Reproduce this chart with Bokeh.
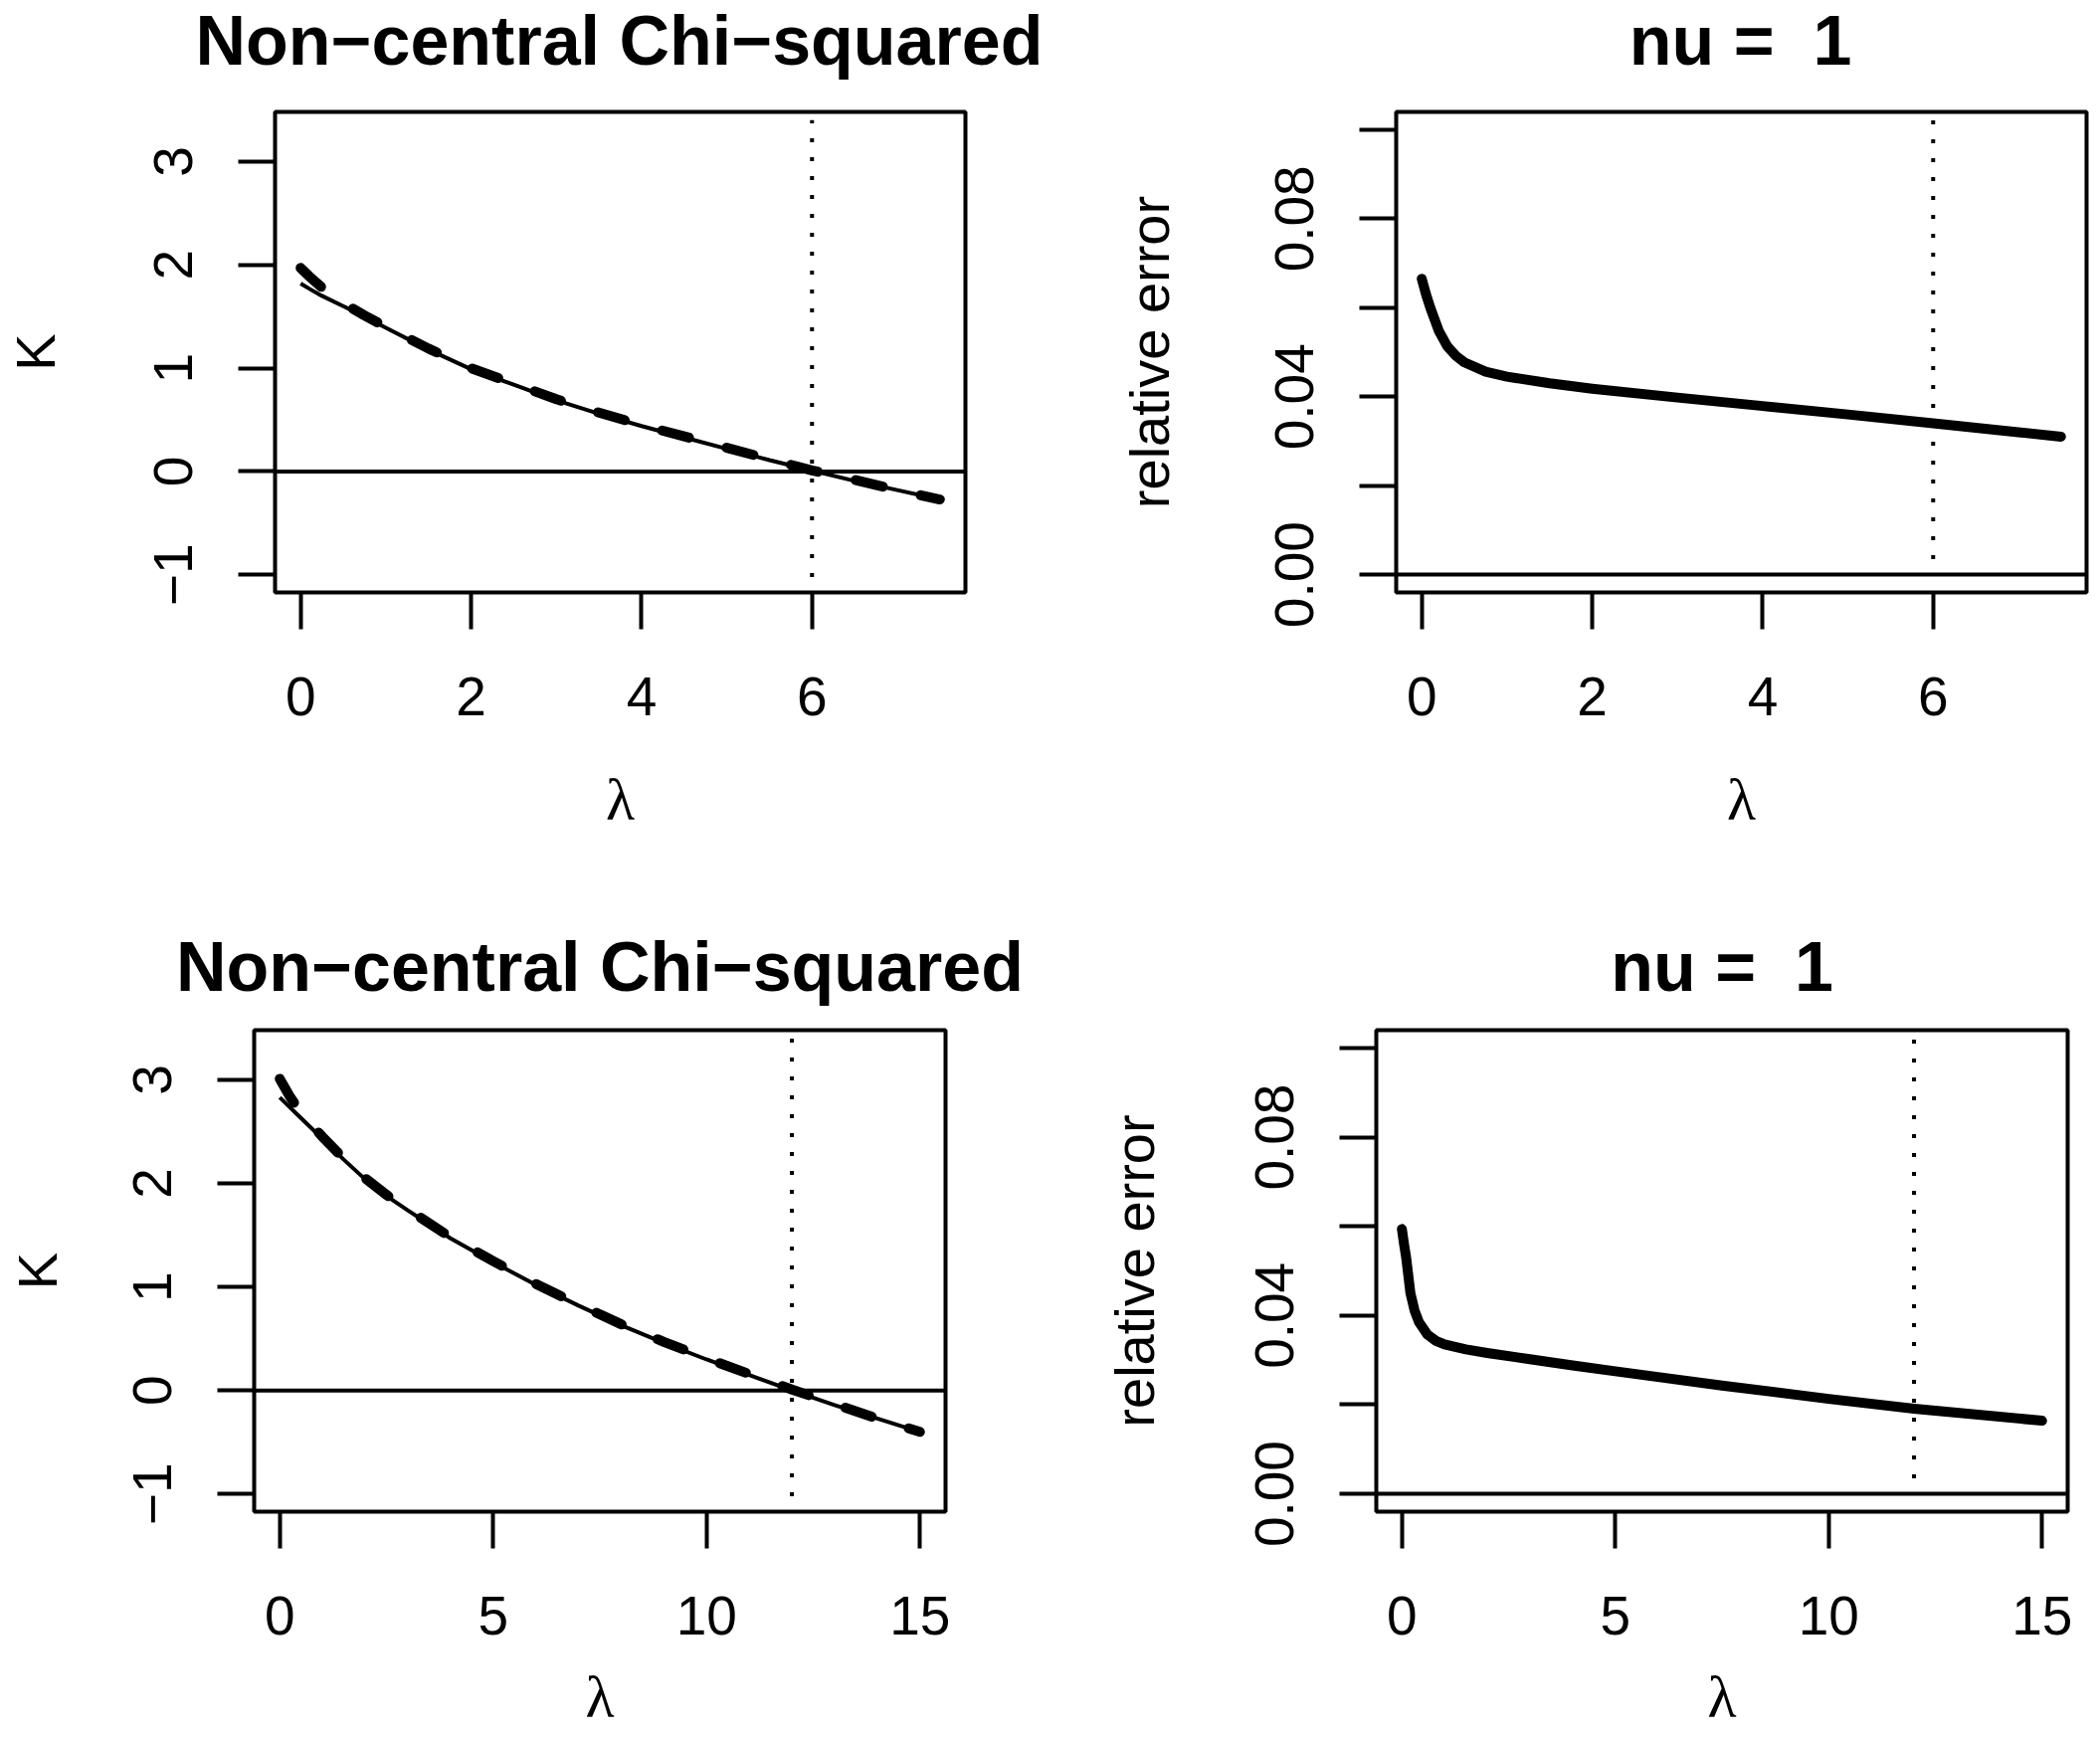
import math
from bokeh.plotting import figure
from bokeh.layouts import column, row
from bokeh.models import FixedTicker, CustomJSTickFormatter, Span, Range1d
from bokeh.core.properties import value
from bokeh.embed import file_html
from bokeh.resources import INLINE

# ---------------- data ----------------
title_left = "Non\u2212central Chi\u2212squared"
title_right = "nu = \u00a01"

# top-left panel: K versus lambda (lambda up to 7.5)
lam_tl = [0, 0.1, 0.25, 0.5, 0.75, 1, 1.5, 2, 2.5, 3, 3.5, 4, 4.5, 5, 5.5, 6, 6.5, 7, 7.5]
K_solid_tl = [1.82, 1.77, 1.70, 1.60, 1.50, 1.39, 1.18, 0.99, 0.84, 0.69, 0.56, 0.44, 0.33, 0.22, 0.11, 0.01, -0.09, -0.18, -0.27]
K_dashed_tl = [1.97, 1.89, 1.78, 1.63, 1.51, 1.40, 1.19, 1.00, 0.85, 0.70, 0.57, 0.45, 0.34, 0.23, 0.12, 0.01, -0.08, -0.18, -0.27]

# top-right panel: relative error
lam_tr = [0, 0.05, 0.1, 0.2, 0.3, 0.4, 0.5, 0.75, 1, 1.5, 2, 3, 4, 5, 6, 7, 7.5]
err_tr = [0.0665, 0.0630, 0.0600, 0.0548, 0.0513, 0.0492, 0.0477, 0.0456, 0.0445, 0.0430, 0.0418, 0.0398, 0.0379, 0.0360, 0.0340, 0.0320, 0.0310]

# bottom-left panel: K versus lambda (lambda up to 15)
lam_bl = [0, 0.25, 0.5, 1, 1.5, 2, 2.5, 3, 4, 5, 6, 7, 8, 9, 10, 11, 12, 13, 14, 15]
K_solid_bl = [2.83, 2.73, 2.63, 2.43, 2.23, 2.04, 1.88, 1.74, 1.47, 1.24, 1.02, 0.82, 0.63, 0.46, 0.30, 0.15, 0.00, -0.14, -0.27, -0.40]
K_dashed_bl = [3.01, 2.83, 2.68, 2.45, 2.24, 2.05, 1.89, 1.75, 1.48, 1.25, 1.03, 0.83, 0.64, 0.47, 0.31, 0.16, 0.01, -0.13, -0.27, -0.40]

# bottom-right panel: relative error
lam_br = [0, 0.05, 0.1, 0.2, 0.3, 0.4, 0.6, 0.8, 1, 1.5, 2, 3, 4, 5, 6, 7.5, 10, 12, 15]
err_br = [0.0594, 0.0560, 0.0530, 0.0450, 0.0410, 0.0385, 0.0357, 0.0343, 0.0335, 0.0324, 0.0316, 0.0302, 0.0288, 0.0275, 0.0262, 0.0243, 0.0213, 0.0191, 0.0164]

# reference lines
vline_x_top = 6
vline_x_bot = 12
vline_y_K = [-1.02, 3.40]
vline_y_err = [0.0035, 0.1025]
hline_y = 0

# ticks
xticks_top = [0, 2, 4, 6]
xlabels_top = ["0", "2", "4", "6"]
xticks_bot = [0, 5, 10, 15]
xlabels_bot = ["0", "5", "10", "15"]
yticks_K = [-1, 0, 1, 2, 3]
ylabels_K = ["\u22121", "0", "1", "2", "3"]
yticks_err = [0, 0.02, 0.04, 0.06, 0.08, 0.10]
ylabels_err = ["0.00", "", "0.04", "", "0.08", ""]

# axis ranges
xr_top = (-0.3, 7.8)
xr_bot = (-0.6, 15.6)
yr_K = (-1.17, 3.48)
yr_err = (-0.004, 0.104)

FONT = "Liberation Sans"


def fmt(tv, tl):
    return CustomJSTickFormatter(args=dict(tv=tv, tl=tl), code="""
        for (let i = 0; i < tv.length; i++) {
            if (Math.abs(tv[i] - tick) < 1e-9) { return tl[i]; }
        }
        return "";
    """)


def title_strip(texts, centers, total_w, h, mid_from_bottom):
    """A full-width strip (pixel coordinates) that carries the bold panel titles."""
    t = figure(width=total_w, height=h, x_range=Range1d(0, total_w), y_range=Range1d(0, h),
               min_border=0, output_backend="svg", toolbar_location=None,
               x_axis_type=None, y_axis_type=None)
    t.grid.visible = False
    t.outline_line_color = None
    t.background_fill_color = "white"
    t.border_fill_color = "white"
    t.text(x=centers, y=[mid_from_bottom] * len(texts), text=texts,
           text_font=value(FONT), text_font_size=value("70px"), text_font_style="bold",
           text_color="black", text_align="center", text_baseline="middle")
    return t


def make_fig(xr, yr, xt, xl, yt, yl, ylab, borders, fw, fh,
             ytick_standoff, ylab_standoff, xtick_standoff, xlab_standoff):
    bl, br, bt, bb = borders
    p = figure(frame_width=fw, frame_height=fh,
               x_range=Range1d(*xr), y_range=Range1d(*yr),
               min_border_left=bl, min_border_right=br,
               min_border_top=bt, min_border_bottom=bb,
               output_backend="svg", toolbar_location=None)
    p.grid.visible = False
    p.outline_line_color = "black"
    p.outline_line_width = 4
    p.outline_line_alpha = 1.0
    p.background_fill_color = "white"
    p.border_fill_color = "white"

    p.xaxis.ticker = FixedTicker(ticks=xt)
    p.xaxis.formatter = fmt(xt, xl)
    p.yaxis.ticker = FixedTicker(ticks=yt)
    p.yaxis.formatter = fmt(yt, yl)
    for ax in (p.xaxis[0], p.yaxis[0]):
        ax.axis_line_color = None
        ax.major_tick_out = 37
        ax.major_tick_in = 0
        ax.major_tick_line_width = 4
        ax.major_tick_line_color = "black"
        ax.minor_tick_line_color = None
        ax.major_label_text_font = FONT
        ax.major_label_text_font_size = "55px"
        ax.major_label_text_color = "black"
        ax.axis_label_text_color = "black"
        ax.axis_label_text_font_style = "normal"
    p.yaxis.major_label_orientation = "vertical"
    p.yaxis.major_label_standoff = ytick_standoff
    p.yaxis.axis_label = ylab
    p.yaxis.axis_label_text_font = FONT
    p.yaxis.axis_label_text_font_size = "56px"
    p.yaxis.axis_label_standoff = ylab_standoff
    p.xaxis.major_label_standoff = xtick_standoff
    p.xaxis.axis_label = "\u03bb"
    p.xaxis.axis_label_text_font = "Liberation Serif"
    p.xaxis.axis_label_text_font_size = "60px"
    p.xaxis.axis_label_standoff = xlab_standoff
    return p


# ---- layout geometry (pixels) ----
FW_T, FH_T = 694, 483
FW_B, FH_B = 695, 484
TT_H, TB_H = 90, 150           # title strip heights (top row / bottom row)
L1, R1, L2, R2 = 275, 81, 352, 10
L3, R3, L4, R4 = 255, 90, 343, 10

# top-left
f1 = make_fig(xr_top, yr_K, xticks_top, xlabels_top, yticks_K, ylabels_K,
              "K", (L1, R1, 22, 275), FW_T, FH_T, 46, 86, 48, 49)
f1.add_layout(Span(location=hline_y, dimension="width", line_color="black", line_width=4))
f1.line([vline_x_top, vline_x_top], vline_y_K, line_color="black", line_width=4, line_dash="4 15")
f1.line(lam_tl, K_solid_tl, line_color="black", line_width=4)
f1.line(lam_tl, K_dashed_tl, line_color="black", line_width=10, line_dash="28 39", line_cap="round")

# top-right
f2 = make_fig(xr_top, yr_err, xticks_top, xlabels_top, yticks_err, ylabels_err,
              "relative error", (L2, R2, 22, 275), FW_T, FH_T, 46, 93, 48, 49)
f2.add_layout(Span(location=hline_y, dimension="width", line_color="black", line_width=4))
f2.line([vline_x_top, vline_x_top], vline_y_err, line_color="black", line_width=4, line_dash="4 15")
f2.line(lam_tr, err_tr, line_color="black", line_width=10, line_cap="round", line_join="round")

# bottom-left
f3 = make_fig(xr_bot, yr_K, xticks_bot, xlabels_bot, yticks_K, ylabels_K,
              "K", (L3, R3, 15, 226), FW_B, FH_B, 46, 63, 48, 27)
f3.add_layout(Span(location=hline_y, dimension="width", line_color="black", line_width=4))
f3.line([vline_x_bot, vline_x_bot], vline_y_K, line_color="black", line_width=4, line_dash="4 15")
f3.line(lam_bl, K_solid_bl, line_color="black", line_width=4)
f3.line(lam_bl, K_dashed_bl, line_color="black", line_width=10, line_dash="28 39", line_cap="round")

# bottom-right
f4 = make_fig(xr_bot, yr_err, xticks_bot, xlabels_bot, yticks_err, ylabels_err,
              "relative error", (L4, R4, 15, 226), FW_B, FH_B, 46, 88, 48, 27)
f4.add_layout(Span(location=hline_y, dimension="width", line_color="black", line_width=4))
f4.line([vline_x_bot, vline_x_bot], vline_y_err, line_color="black", line_width=4, line_dash="4 15")
f4.line(lam_br, err_br, line_color="black", line_width=10, line_cap="round", line_join="round")

# title strips
W_TOP = L1 + FW_T + R1 + L2 + FW_T + R2
W_BOT = L3 + FW_B + R3 + L4 + FW_B + R4
t_top = title_strip([title_left, title_right],
                    [L1 + FW_T / 2, L1 + FW_T + R1 + L2 + FW_T / 2], W_TOP, TT_H, 50)
t_bot = title_strip([title_left, title_right],
                    [L3 + FW_B / 2, L3 + FW_B + R3 + L4 + FW_B / 2], W_BOT, TB_H, 49)

layout = column(t_top, row(f1, f2, spacing=0), t_bot, row(f3, f4, spacing=0), spacing=0)
open("out.html", "w").write(file_html(layout, INLINE))
